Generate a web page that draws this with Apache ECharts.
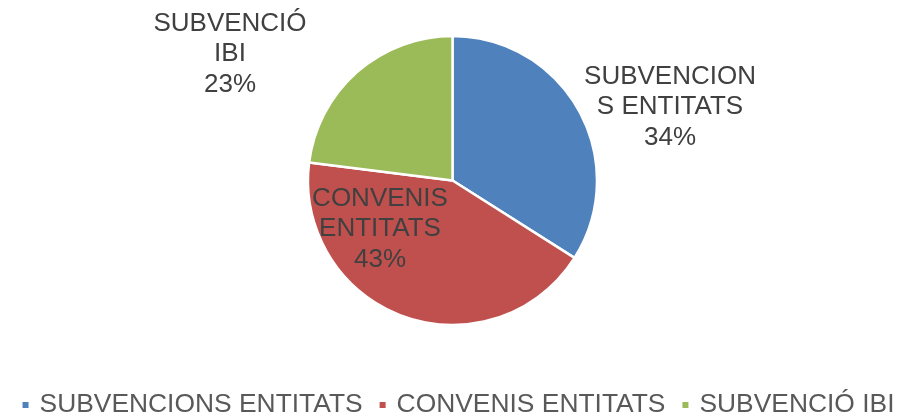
<!DOCTYPE html>
<html>
<head>
<meta charset="utf-8">
<script src="https://cdn.jsdelivr.net/npm/echarts@6/dist/echarts.min.js"></script>
<style>
  html, body { margin: 0; padding: 0; background: #fff; }
  #chart { width: 915px; height: 417px; }
</style>
</head>
<body>
<div id="chart"></div>
<script>
var categories = ['SUBVENCIONS ENTITATS', 'CONVENIS ENTITATS', 'SUBVENCIÓ IBI'];
var values = [34, 43, 23];
var wrappedNames = ['SUBVENCION\nS ENTITATS', 'CONVENIS\nENTITATS', 'SUBVENCIÓ\nIBI'];
var colors = ['#4F81BD', '#C0504D', '#9BBB59'];

// where Excel placed the data labels ("best fit")
var labelSpots = [[670, 107], [380, 229], [230, 54]];

var chart = echarts.init(document.getElementById('chart'));

chart.setOption({
    animation: false,
    color: colors,
    legend: {
        data: categories,
        left: 'center',
        top: 385,
        icon: 'rect',
        itemWidth: 8,
        itemHeight: 8,
        itemGap: 15,
        textStyle: {
            fontFamily: 'Liberation Sans',
            fontSize: 26.4,
            color: '#595959',
            lineHeight: 30,
            padding: [0, 0, 0, 5]
        }
    },
    series: [
        {
            type: 'pie',
            center: [452.5, 180.5],
            radius: 144.5,
            startAngle: 90,
            clockwise: true,
            itemStyle: {
                borderColor: '#fff',
                borderWidth: 2.5
            },
            label: {
                show: true,
                position: 'inside',
                fontFamily: 'Liberation Sans',
                fontSize: 26,
                lineHeight: 30.5,
                color: '#404040',
                align: 'center',
                formatter: function (p) {
                    return wrappedNames[p.dataIndex] + '\n' + p.value + '%';
                }
            },
            labelLine: { show: false },
            labelLayout: function (p) {
                var s = labelSpots[p.dataIndex];
                return { x: s[0], y: s[1], align: 'center', verticalAlign: 'middle' };
            },
            data: categories.map(function (c, i) {
                return { name: c, value: values[i] };
            })
        }
    ]
});
</script>
</body>
</html>
